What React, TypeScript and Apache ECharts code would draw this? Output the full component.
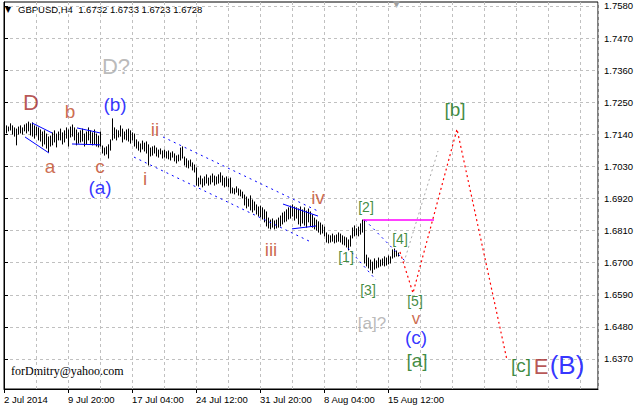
import React, { useEffect, useRef } from 'react';
import * as echarts from 'echarts';

// H4 bars (index 0 = first visible bar), highs and lows
const highs = [
  1.7172, 1.7169, 1.7165, 1.7176, 1.7169, 1.7162, 1.7158, 1.7165, 1.7169, 1.7162,
  1.7172, 1.7176, 1.7182, 1.7176, 1.7179, 1.7169, 1.7165, 1.7162, 1.7155, 1.7148,
  1.7152, 1.7141, 1.7131, 1.7134, 1.7145, 1.7152, 1.7141, 1.7148, 1.7158, 1.7145,
  1.7152, 1.7162, 1.7155, 1.7165, 1.7172, 1.7162, 1.7155, 1.7145, 1.7152, 1.7158,
  1.7141, 1.7148, 1.7162, 1.7152, 1.7145, 1.7155, 1.7141, 1.7134, 1.7148, 1.7100,
  1.7093, 1.7097, 1.7104, 1.7121, 1.7193, 1.7162, 1.7155, 1.7152, 1.7169, 1.7158,
  1.7148, 1.7155, 1.7158, 1.7152, 1.7145, 1.7141, 1.7121, 1.7114, 1.7107, 1.7117,
  1.7110, 1.7114, 1.7104, 1.7093, 1.7097, 1.7100, 1.7093, 1.7086, 1.7090, 1.7083,
  1.7086, 1.7080, 1.7083, 1.7076, 1.7080, 1.7073, 1.7066, 1.7069, 1.7093, 1.7097,
  1.7062, 1.7056, 1.7049, 1.7052, 1.7042, 1.7035, 1.7025, 1.6990, 1.6997, 1.6987,
  1.6994, 1.7001, 1.6990, 1.6997, 1.7004, 1.6997, 1.6994, 1.7001, 1.7008, 1.6997,
  1.6990, 1.6994, 1.6987, 1.6990, 1.6956, 1.6953, 1.6960, 1.6953, 1.6949, 1.6942,
  1.6932, 1.6925, 1.6918, 1.6929, 1.6915, 1.6908, 1.6898, 1.6891, 1.6894, 1.6888,
  1.6881, 1.6874, 1.6853, 1.6846, 1.6850, 1.6843, 1.6846, 1.6853, 1.6860, 1.6870,
  1.6874, 1.6881, 1.6888, 1.6894, 1.6898, 1.6891, 1.6888, 1.6884, 1.6891, 1.6881,
  1.6888, 1.6877, 1.6884, 1.6874, 1.6864, 1.6853, 1.6846, 1.6840, 1.6836, 1.6829,
  1.6822, 1.6802, 1.6795, 1.6792, 1.6798, 1.6792, 1.6795, 1.6802, 1.6798, 1.6792,
  1.6788, 1.6785, 1.6778, 1.6792, 1.6819, 1.6826, 1.6816, 1.6822, 1.6833, 1.6846,
  1.6846, 1.6726, 1.6716, 1.6709, 1.6702, 1.6713, 1.6706, 1.6716, 1.6709, 1.6713,
  1.6720, 1.6716, 1.6723, 1.6720, 1.6744, 1.6747, 1.6740, 1.6733,
];
const lows = [
  1.7152, 1.7145, 1.7152, 1.7155, 1.7141, 1.7134, 1.7104, 1.7141, 1.7145, 1.7141,
  1.7152, 1.7145, 1.7152, 1.7138, 1.7134, 1.7127, 1.7138, 1.7121, 1.7117, 1.7100,
  1.7107, 1.7093, 1.7080, 1.7100, 1.7104, 1.7114, 1.7097, 1.7121, 1.7121, 1.7107,
  1.7114, 1.7127, 1.7100, 1.7131, 1.7134, 1.7121, 1.7104, 1.7110, 1.7114, 1.7117,
  1.7100, 1.7107, 1.7121, 1.7110, 1.7104, 1.7107, 1.7100, 1.7097, 1.7100, 1.7076,
  1.7069, 1.7073, 1.7059, 1.7086, 1.7121, 1.7127, 1.7121, 1.7131, 1.7134, 1.7114,
  1.7124, 1.7121, 1.7117, 1.7110, 1.7121, 1.7100, 1.7093, 1.7086, 1.7080, 1.7090,
  1.7083, 1.7076, 1.7035, 1.7066, 1.7069, 1.7076, 1.7066, 1.7062, 1.7073, 1.7059,
  1.7062, 1.7059, 1.7056, 1.7052, 1.7062, 1.7049, 1.7042, 1.7049, 1.7052, 1.7059,
  1.7035, 1.7028, 1.7025, 1.7032, 1.7018, 1.7011, 1.6966, 1.6963, 1.6970, 1.6960,
  1.6966, 1.6973, 1.6966, 1.6970, 1.6977, 1.6966, 1.6970, 1.6973, 1.6977, 1.6966,
  1.6960, 1.6963, 1.6960, 1.6939, 1.6939, 1.6936, 1.6942, 1.6932, 1.6929, 1.6922,
  1.6898, 1.6888, 1.6894, 1.6881, 1.6874, 1.6881, 1.6867, 1.6860, 1.6857, 1.6850,
  1.6840, 1.6826, 1.6819, 1.6816, 1.6822, 1.6816, 1.6819, 1.6822, 1.6826, 1.6833,
  1.6840, 1.6843, 1.6850, 1.6853, 1.6860, 1.6846, 1.6853, 1.6833, 1.6826, 1.6836,
  1.6829, 1.6822, 1.6840, 1.6826, 1.6822, 1.6816, 1.6812, 1.6805, 1.6798, 1.6802,
  1.6792, 1.6771, 1.6768, 1.6771, 1.6774, 1.6768, 1.6771, 1.6774, 1.6771, 1.6764,
  1.6761, 1.6754, 1.6744, 1.6757, 1.6785, 1.6792, 1.6795, 1.6792, 1.6798, 1.6805,
  1.6699, 1.6689, 1.6682, 1.6675, 1.6665, 1.6678, 1.6682, 1.6685, 1.6689, 1.6692,
  1.6689, 1.6692, 1.6696, 1.6699, 1.6716, 1.6720, 1.6723, 1.6723,
];

const timeLabelBars = [0, 32, 64, 96, 128, 160, 192];
const timeLabels = ['2 Jul 2014', '9 Jul 20:00', '17 Jul 04:00', '24 Jul 12:00', '31 Jul 20:00', '8 Aug 04:00', '15 Aug 12:00'];
const priceTicks = [1.637, 1.648, 1.659, 1.67, 1.681, 1.692, 1.703, 1.714, 1.725, 1.736, 1.747, 1.758];

// drawn analysis lines: [bar index, price]
const forecastPath = [[198, 1.6737], [204.5, 1.6596], [226.5, 1.7158], [251.5, 1.6366]];
const altPath = [[200, 1.6702], [217, 1.7083]];
const levelLine = [[179.5, 1.6846], [215, 1.6846]];
const channelUpper = [[79.5, 1.7131], [157, 1.6877]];
const channelLower = [[65, 1.7062], [153.5, 1.6771]];
const wedgeUpper = [[180.5, 1.6846], [201.5, 1.6699]];
const wedgeLower = [[172, 1.675], [186, 1.6641]];
const solidLines = [
  [[14, 1.7179], [24, 1.7145]],
  [[10.5, 1.7131], [22.5, 1.7076]],
  [[36.5, 1.7162], [48, 1.7145]],
  [[34, 1.7107], [48, 1.7104]],
  [[139.5, 1.6901], [157, 1.686]],
  [[144, 1.6816], [156, 1.6826]],
];

const waveLabels = [
  { text: 'D', bar: 13.5, price: 1.7248, kind: 'major' },
  { text: 'D?', bar: 56, price: 1.7374, kind: 'grayBig' },
  { text: 'b', bar: 33, price: 1.7217, kind: 'minor' },
  { text: '(b)', bar: 55.5, price: 1.7243, kind: 'inter' },
  { text: 'ii', bar: 75.5, price: 1.7158, kind: 'minor' },
  { text: 'a', bar: 23, price: 1.7031, kind: 'minor' },
  { text: 'c', bar: 48, price: 1.7031, kind: 'minor' },
  { text: '(a)', bar: 48, price: 1.6959, kind: 'inter' },
  { text: 'i', bar: 70.5, price: 1.699, kind: 'minor' },
  { text: 'iii', bar: 133.5, price: 1.6747, kind: 'minor' },
  { text: 'iv', bar: 157, price: 1.6922, kind: 'minor' },
  { text: '[1]', bar: 171, price: 1.6721, kind: 'primarySmall' },
  { text: '[2]', bar: 181, price: 1.6892, kind: 'primarySmall' },
  { text: '[3]', bar: 182, price: 1.6608, kind: 'primarySmall' },
  { text: '[4]', bar: 198, price: 1.6782, kind: 'primarySmall' },
  { text: '[5]', bar: 205.5, price: 1.657, kind: 'primarySmall' },
  { text: '[a]?', bar: 184, price: 1.6492, kind: 'grayMid' },
  { text: 'v', bar: 206, price: 1.6508, kind: 'minorSmall' },
  { text: '(c)', bar: 206, price: 1.6444, kind: 'inter' },
  { text: '[a]', bar: 206.5, price: 1.6366, kind: 'primary' },
  { text: '[b]', bar: 225.5, price: 1.7226, kind: 'primary' },
  { text: '[c]', bar: 258.5, price: 1.6348, kind: 'primary' },
  { text: 'E', bar: 268.5, price: 1.6343, kind: 'major' },
  { text: '(B)', bar: 281.5, price: 1.635, kind: 'interBig' },
];

const labelStyles: Record<string, { color: string; fontSize: number }> = {
  major: { color: '#a52a2a', fontSize: 22 },
  grayBig: { color: '#a9a9a9', fontSize: 22 },
  grayMid: { color: '#a9a9a9', fontSize: 17 },
  minor: { color: '#c0471f', fontSize: 19 },
  minorSmall: { color: '#c0471f', fontSize: 17 },
  inter: { color: '#0000ff', fontSize: 19 },
  interBig: { color: '#0000ff', fontSize: 26 },
  primary: { color: '#0e6e0e', fontSize: 19 },
  primarySmall: { color: '#0e6e0e', fontSize: 14 },
};

const SANS = '"Liberation Sans", Arial, sans-serif';

function lineSeries(data: number[][], color: string, type: any, width = 1) {
  return {
    type: 'line',
    data,
    symbol: 'none',
    silent: true,
    xAxisIndex: 0,
    yAxisIndex: 0,
    z: 3,
    lineStyle: { color, type, width },
  };
}

export default function App() {
  const ref = useRef<HTMLDivElement>(null);
  useEffect(() => {
    const chart = echarts.init(ref.current!, null, { renderer: 'svg', width: 637, height: 407 });
    const barData = highs.map((h, i) => [i, lows[i], h]);
    const option: any = {
      animation: false,
      backgroundColor: '#ffffff',
      grid: {
        left: 4, right: 39, top: 2, bottom: 18,
        show: true, borderColor: '#000', borderWidth: 1,
        containLabel: false, outerBoundsMode: 'none',
      },
      xAxis: [
        {
          type: 'value', min: 0, max: 297, interval: 16, position: 'bottom',
          axisLine: { show: false },
          axisTick: { show: false },
          axisLabel: { show: false },
          splitLine: { show: true, lineStyle: { color: '#c0c0c0', type: [3, 3], width: 1 } },
        },
        {
          type: 'value', min: 0, max: 297, position: 'bottom',
          axisLine: { show: true, lineStyle: { color: '#000' } },
          axisTick: { show: true, length: 4, customValues: timeLabelBars, lineStyle: { color: '#000' } },
          axisLabel: {
            show: true, customValues: timeLabelBars, align: 'left', margin: 5,
            color: '#000', fontSize: 9.5, fontFamily: SANS,
            formatter: (v: number) => {
              const k = timeLabelBars.indexOf(Math.round(v));
              return k >= 0 ? timeLabels[k] : '';
            },
          },
          splitLine: { show: false },
        },
      ],
      yAxis: {
        type: 'value', position: 'right', min: 1.62671, max: 1.75937, scale: true,
        axisLine: { show: true, lineStyle: { color: '#000' } },
        axisTick: { show: true, length: 4, customValues: priceTicks, lineStyle: { color: '#000' } },
        axisLabel: {
          customValues: priceTicks, margin: 6, color: '#000', fontSize: 9.5, fontFamily: SANS,
          formatter: (v: number) => v.toFixed(4),
        },
        splitLine: { show: true, lineStyle: { color: '#c0c0c0', type: [3, 3], width: 1 } },
      },
      graphic: [
        { type: 'text', left: 5, top: 5, style: { text: '▼', fontSize: 8, fontFamily: '"DejaVu Sans"', fill: '#000' } },
        { type: 'text', left: 18, top: 4, style: { text: 'GBPUSD,H4  1.6732 1.6733 1.6723 1.6728', fontSize: 9.5, fontFamily: SANS, fill: '#000' } },
        { type: 'text', left: 393, top: -1, style: { text: '▼', fontSize: 9, fontFamily: '"DejaVu Sans"', fill: '#a0a0a0' } },
        { type: 'text', left: 11, top: 365, style: { text: 'forDmitry@yahoo.com', fontSize: 12, fontFamily: '"Liberation Serif", "Times New Roman", serif', fill: '#000' } },
      ],
      series: [
        {
          type: 'custom',
          xAxisIndex: 0, yAxisIndex: 0,
          data: barData,
          encode: { x: 0, y: [1, 2] },
          z: 2,
          renderItem: (params: any, api: any) => {
            const i = api.value(0);
            const lo = api.coord([i, api.value(1)]);
            const hi = api.coord([i, api.value(2)]);
            const x = Math.round(lo[0]) + 0.5;
            return {
              type: 'line',
              shape: { x1: x, y1: lo[1] + 0.5, x2: x, y2: hi[1] - 0.5 },
              style: { stroke: '#000', lineWidth: 1 },
            };
          },
        },
        lineSeries(channelUpper, '#0000ff', [2, 4]),
        lineSeries(channelLower, '#0000ff', [2, 4]),
        lineSeries(wedgeUpper, '#0000ff', [2, 4]),
        lineSeries(wedgeLower, '#0000ff', [2, 4]),
        ...solidLines.map((d) => lineSeries(d, '#0000ff', 'solid')),
        lineSeries(levelLine, '#ff00ff', 'solid', 1.5),
        lineSeries(altPath, '#a9a9a9', [2, 3]),
        lineSeries(forecastPath, '#ff0000', [2, 3], 1.2),
        {
          type: 'scatter',
          xAxisIndex: 0, yAxisIndex: 0,
          symbolSize: 0,
          silent: true,
          z: 5,
          data: waveLabels.map((w) => ({
            value: [w.bar, w.price],
            label: {
              show: true,
              position: 'inside',
              formatter: w.text,
              color: labelStyles[w.kind].color,
              fontSize: labelStyles[w.kind].fontSize,
              fontFamily: SANS,
            },
          })),
          label: { show: true, position: 'inside', align: 'center', verticalAlign: 'middle' },
        },
      ],
    };
    chart.setOption(option);
    return () => chart.dispose();
  }, []);
  return (
    <div
      ref={ref}
      style={{ width: 637, height: 407, position: 'absolute', left: 0, top: 0, background: '#fff' }}
    />
  );
}
